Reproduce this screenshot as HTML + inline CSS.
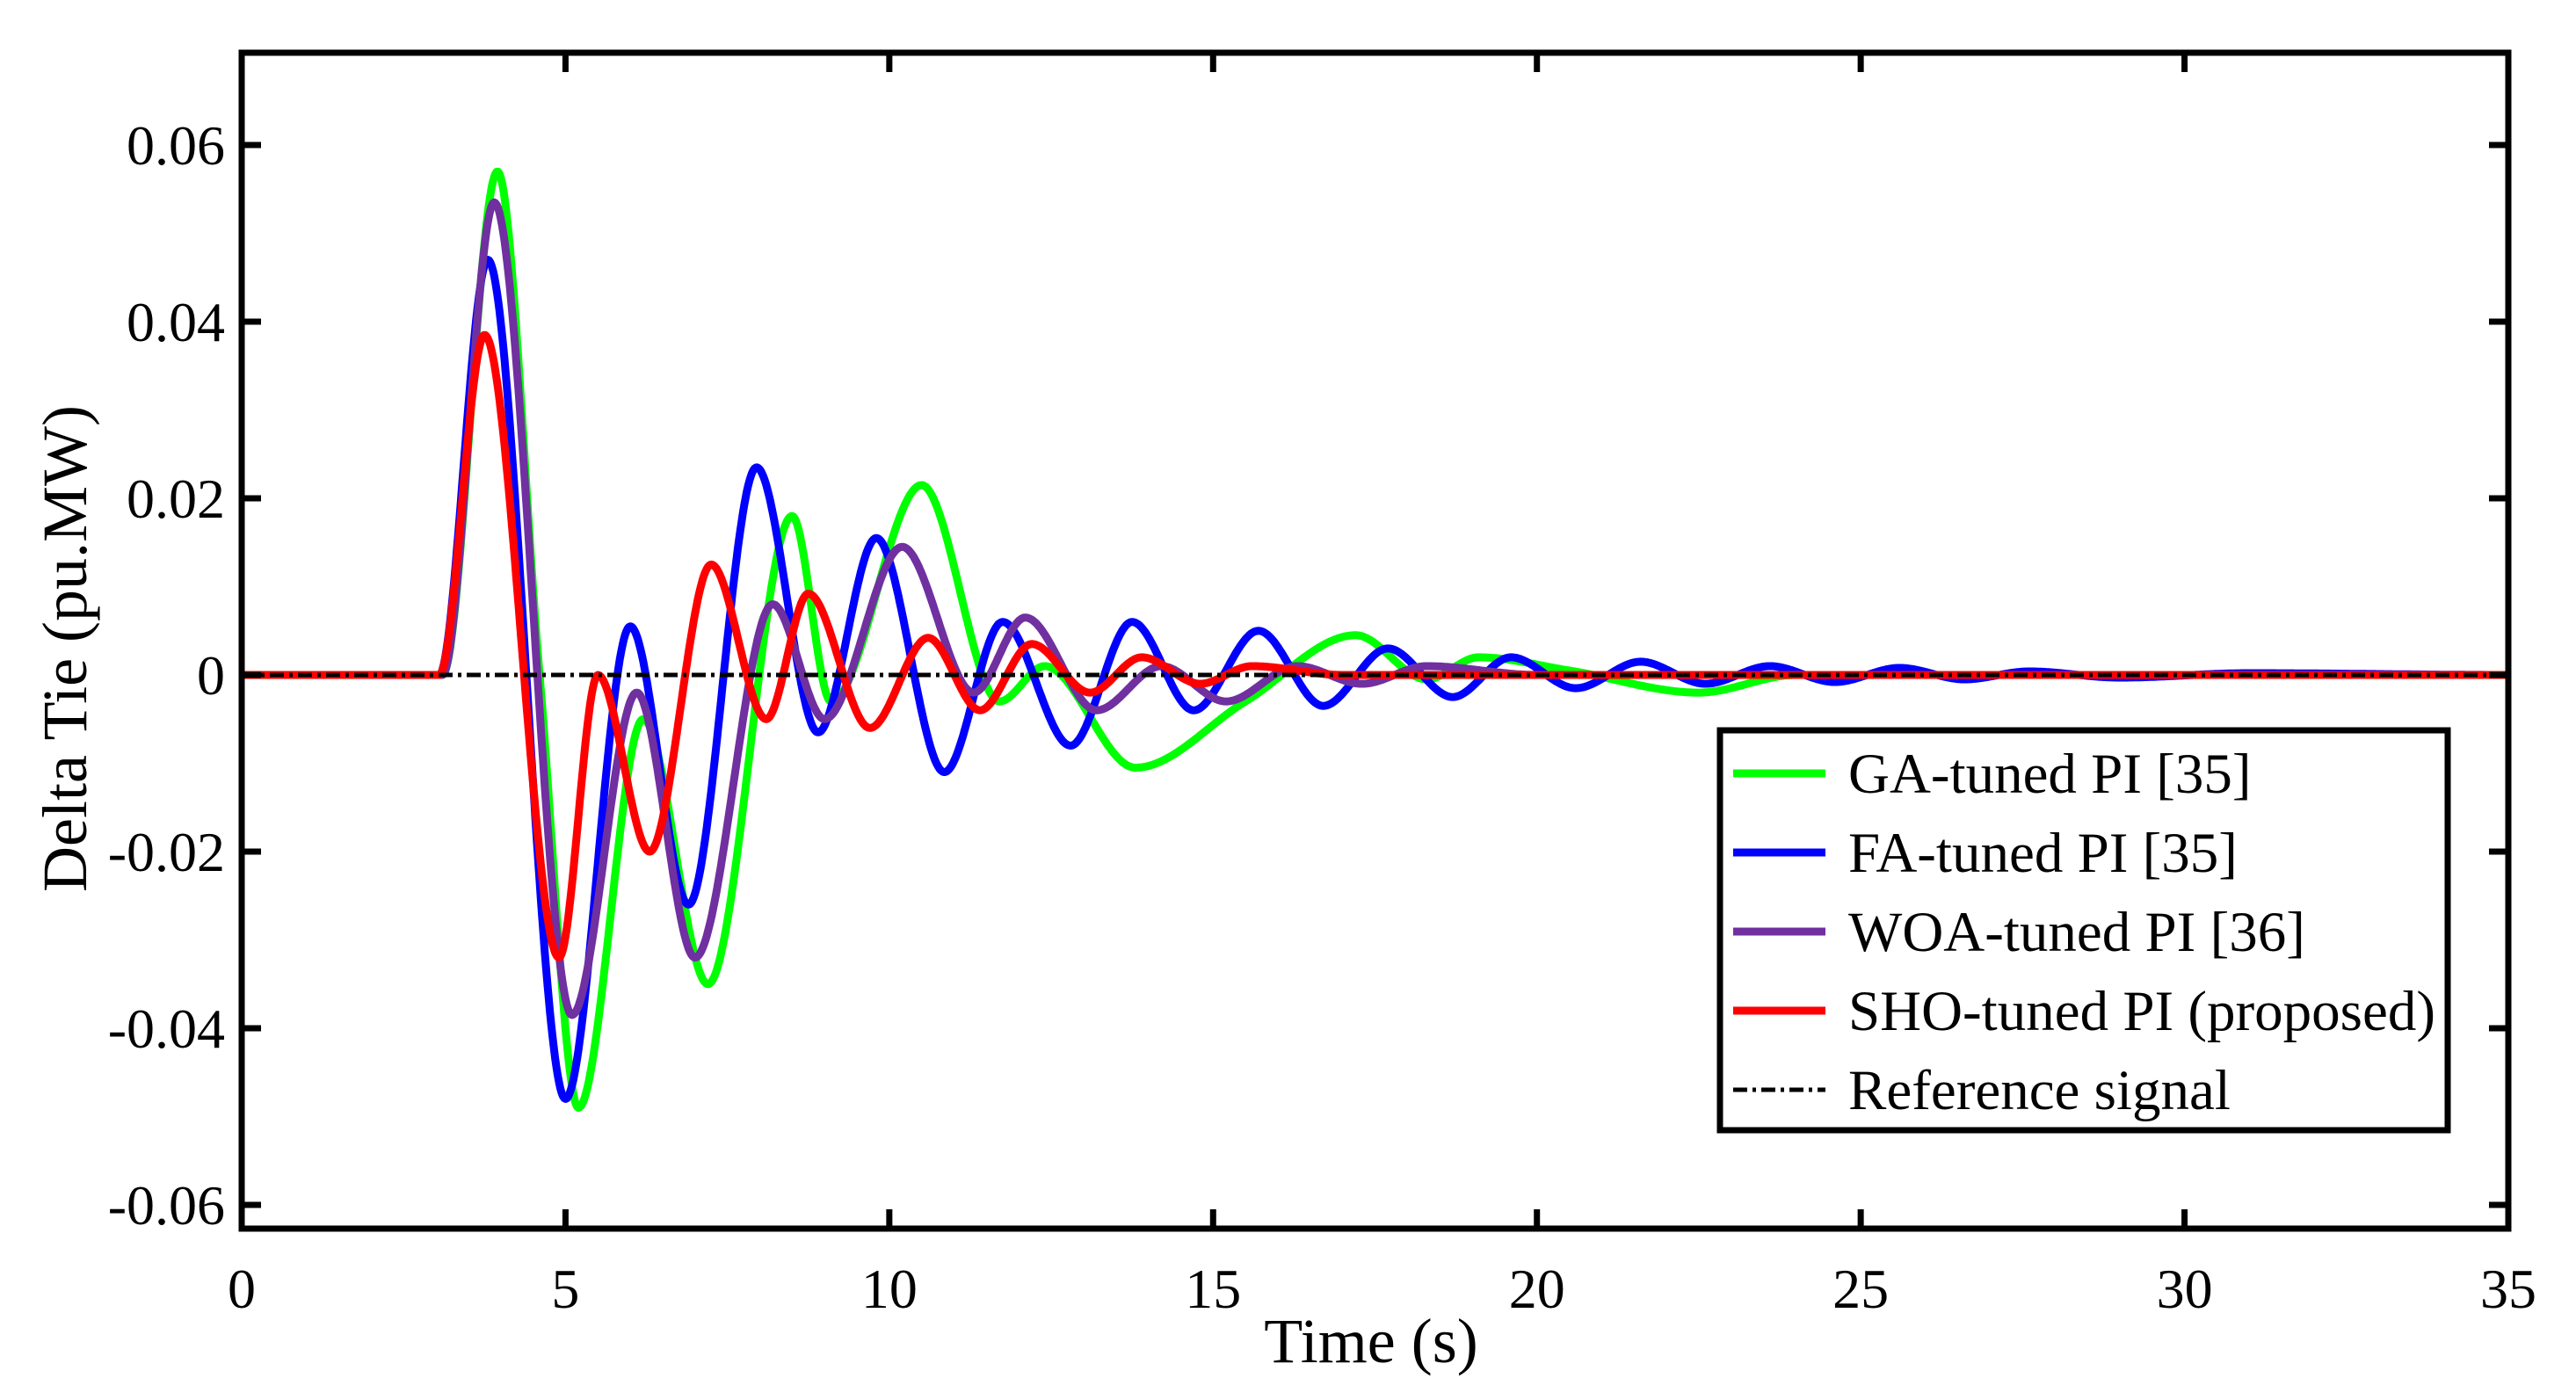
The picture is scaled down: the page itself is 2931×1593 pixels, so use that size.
<!DOCTYPE html>
<html><head><meta charset="utf-8"><style>
html,body{margin:0;padding:0;background:#fff;}
svg{display:block;font-family:"Liberation Serif",serif;}
</style></head><body>
<svg id="chart" width="2931" height="1593" viewBox="0 0 2931 1593" xmlns="http://www.w3.org/2000/svg">
<rect width="2931" height="1593" fill="#fff"/>
<g id="series"></g>
<g id="axes"></g>
</svg>
<script>
const xTicks=[0,5,10,15,20,25,30,35];
const yTicks=[0.06,0.04,0.02,0,-0.02,-0.04,-0.06];
const yTickLabels=["0.06","0.04","0.02","0","-0.02","-0.04","-0.06"];
const gaT=[0,3.1,3.95,4.6,5.2,6.2,7.2,8.5,9.1,10.5,11.7,12.4,13.8,15.5,17.2,18.3,19.1,20.5,22.5,24,35];
const gaV=[0,0,0.057,0.0,-0.049,-0.005,-0.035,0.018,-0.003,0.0215,-0.003,0.001,-0.0105,-0.003,0.0045,-0.0005,0.002,0.0005,-0.002,0,0];
const faT=[0,3.05,3.8,5.0,6.0,6.9,7.95,8.9,9.8,10.85,11.75,12.8,13.75,14.7,15.7,16.7,17.7,18.7,19.6,20.6,21.6,22.6,23.6,24.6,25.6,26.6,27.6,29,31,35];
const faV=[0,0,0.047,-0.048,0.0055,-0.026,0.0235,-0.0065,0.0155,-0.011,0.006,-0.008,0.006,-0.004,0.005,-0.0035,0.003,-0.0025,0.002,-0.0015,0.0015,-0.001,0.001,-0.0008,0.0008,-0.0005,0.0004,-0.0003,0.0002,0];
const woaT=[0,3.1,3.9,5.1,6.1,7.0,8.2,9.0,10.2,11.3,12.1,13.2,14.2,15.2,16.3,17.3,18.3,20,35];
const woaV=[0,0,0.0535,-0.0385,-0.002,-0.032,0.008,-0.005,0.0145,-0.002,0.0065,-0.004,0.001,-0.003,0.001,-0.001,0.001,0,0];
const shoT=[0,3.05,3.75,4.9,5.5,6.3,7.25,8.1,8.75,9.7,10.6,11.4,12.2,13.1,13.9,14.8,15.6,17,35];
const shoV=[0,0,0.0385,-0.032,0.0,-0.02,0.0125,-0.005,0.0092,-0.006,0.0042,-0.004,0.0035,-0.002,0.002,-0.001,0.001,0,0];
const seriesNames=["GA-tuned PI [35]","FA-tuned PI [35]","WOA-tuned PI [36]","SHO-tuned PI (proposed)","Reference signal"];

const L=275,R=2854,T=60,B=1398;
const X=v=>L+(v-0)/35*(R-L);
const Y=v=>768-v/0.02*201;
const NS="http://www.w3.org/2000/svg";
function mk(tag,attrs,parent){const e=document.createElementNS(NS,tag);for(const k in attrs)e.setAttribute(k,attrs[k]);parent.appendChild(e);return e;}

function monotone(xs,ys){
  const n=xs.length,d=[],m=new Array(n);
  for(let i=0;i<n-1;i++)d.push((ys[i+1]-ys[i])/(xs[i+1]-xs[i]));
  m[0]=0;m[n-1]=0;
  for(let i=1;i<n-1;i++){m[i]=(d[i-1]*d[i]<=0)?0:2/(1/d[i-1]+1/d[i]);}
  return function(x){
    let i=0;while(i<n-2&&x>xs[i+1])i++;
    const h=xs[i+1]-xs[i],t=(x-xs[i])/h;
    const h00=2*t*t*t-3*t*t+1,h10=t*t*t-2*t*t+t,h01=-2*t*t*t+3*t*t,h11=t*t*t-t*t;
    return h00*ys[i]+h10*h*m[i]+h01*ys[i+1]+h11*h*m[i+1];
  };
}
const sg=document.getElementById('series');
function drawSeries(ts,vs,color,name){
  const f=monotone(ts,vs);let d="";
  for(let x=0;x<=35;x+=0.02){d+=(d?"L":"M")+X(x).toFixed(1)+","+Y(f(x)).toFixed(1);}
  const p=mk('path',{d:d,fill:'none',stroke:color,'stroke-width':9,'stroke-linejoin':'round'},sg);
  
  
}
drawSeries(gaT,gaV,'#00ff00','ga-series-line');
drawSeries(faT,faV,'#0000ff','fa-series-line');
drawSeries(woaT,woaV,'#7030a0','woa-series-line');
drawSeries(shoT,shoV,'#ff0000','sho-series-line');
const ref=mk('line',{x1:L,x2:R,y1:Y(0),y2:Y(0),stroke:'#000','stroke-width':5,'stroke-dasharray':'16,6,4,6'},sg);



const ax=document.getElementById('axes');
const frame=mk('rect',{x:L,y:T,width:R-L,height:B-T,fill:'none',stroke:'#000','stroke-width':7},ax);


xTicks.forEach(v=>{
  mk('line',{x1:X(v),x2:X(v),y1:B,y2:B-22,stroke:'#000','stroke-width':7},ax);
  mk('line',{x1:X(v),x2:X(v),y1:T,y2:T+22,stroke:'#000','stroke-width':7},ax);
  const t=mk('text',{x:X(v),y:1488,'font-size':64,'text-anchor':'middle'},ax);t.textContent=v;
  
  
});
yTicks.forEach((v,i)=>{
  mk('line',{x1:L,x2:L+22,y1:Y(v),y2:Y(v),stroke:'#000','stroke-width':7},ax);
  mk('line',{x1:R,x2:R-22,y1:Y(v),y2:Y(v),stroke:'#000','stroke-width':7},ax);
  const t=mk('text',{x:256,y:Y(v)+22,'font-size':64,'text-anchor':'end'},ax);t.textContent=yTickLabels[i];
  
  
});
const xt=mk('text',{x:1560,y:1550,'font-size':72,'text-anchor':'middle'},ax);xt.textContent="Time (s)";


const yt=mk('text',{x:0,y:0,'font-size':72,'text-anchor':'middle',transform:'translate(98,738) rotate(-90)'},ax);yt.textContent="Delta Tie (pu.MW)";



const lg=mk('g',{},ax);


mk('rect',{x:1957,y:831,width:828,height:455,fill:'#fff',stroke:'#000','stroke-width':7},lg);
const colors=['#00ff00','#0000ff','#7030a0','#ff0000','#000'];
seriesNames.forEach((n,i)=>{
  const y=880+i*90;
  const ln=mk('line',{x1:1972,x2:2077,y1:y,y2:y,stroke:colors[i],'stroke-width':i<4?9:5},lg);
  if(i==4)ln.setAttribute('stroke-dasharray','16,6,4,6');
  
  
  const t=mk('text',{x:2103,y:y+22,'font-size':65},lg);t.textContent=n;
  
  
});
</script>
</body></html>
